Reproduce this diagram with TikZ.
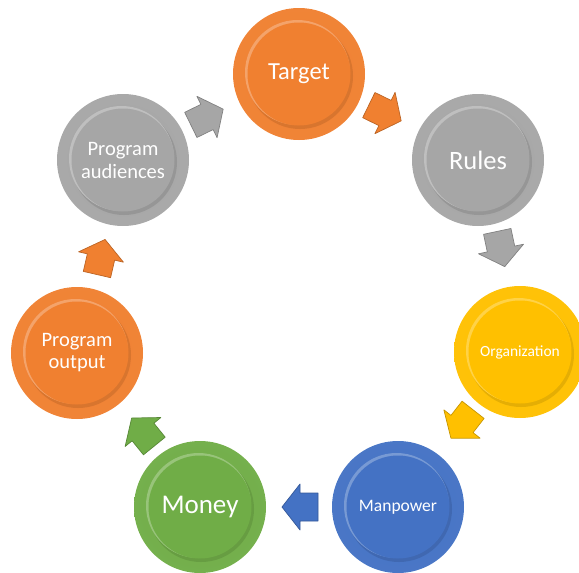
\documentclass[tikz,border=0pt]{standalone}
\usepackage{fontspec}
\setmainfont{Carlito}
\colorlet{basecol}{black}
\definecolor{cOrange}{RGB}{240,128,48}
\definecolor{cGray}{RGB}{166,166,166}
\definecolor{cYellow}{RGB}{255,192,0}
\definecolor{cBlue}{RGB}{68,114,196}
\definecolor{cGreen}{RGB}{112,173,71}
\pgfdeclareradialshading[basecol]{discshade}{\pgfpoint{0bp}{0bp}}{%
  color(0bp)=(basecol); color(38bp)=(basecol!95!white); color(43bp)=(basecol!85!white);
  color(47bp)=(basecol!88!black); color(50bp)=(basecol!60!black)}
\tikzset{
  disc color/.code={\colorlet{basecol}{#1}},
  ball/.style={circle, minimum size=132pt, inner sep=0pt, disc color=#1,
    shading=discshade, shade, text=white, align=center,
    path picture={
      \fill[basecol!75!black, opacity=0.4] ([xshift=1pt,yshift=-2pt]path picture bounding box.center) circle (53pt);
      \fill[basecol!72!white] ([xshift=-1.5pt,yshift=1.5pt]path picture bounding box.center) circle (52.5pt);
      \fill[basecol] (path picture bounding box.center) circle (51.5pt);
    }},
  barrowstyle/.style={fill=#1, draw=#1!78!black, line width=0.7pt, line join=round},
}
\newcommand\blockarr[3]{%
  \filldraw[barrowstyle=#3, shift={(#1)}, rotate=#2]
    (18pt,0pt) -- (0pt,23pt) -- (0pt,14pt) -- (-18pt,14pt) -- (-18pt,-14pt)
    -- (0pt,-14pt) -- (0pt,-23pt) -- cycle;}
\begin{document}
\begin{tikzpicture}[x=1pt,y=-1pt]
\useasboundingbox (0,0) rectangle (579,573);
\begin{scope}
\clip (0,0) rectangle (579,573);
% circles
\node[ball=cOrange, font=\fontsize{24.5}{28}\selectfont] (target) at (299,74) {Target};
\node[ball=cGray, font=\fontsize{26.5}{30}\selectfont] (rules) at (478,160) {Rules};
\node[ball=cYellow, font=\fontsize{15.5}{18}\selectfont] (org) at (520,352) {Organization};
\node[ball=cBlue, font=\fontsize{17.5}{20}\selectfont] (manpower) at (398,507) {Manpower};
\node[ball=cGreen, font=\fontsize{27}{30}\selectfont] (money) at (200,507) {Money};
\node[ball=cOrange, font=\fontsize{20.5}{22}\selectfont] (output) at (77,353) {Program\\output};
\node[ball=cGray, font=\fontsize{20.5}{23}\selectfont] (aud) at (123,160) {Program\\audiences};
% block arrows
\coordinate (a1) at (207,117);
\coordinate (a2) at (385,113);
\coordinate (a3) at (501,249);
\coordinate (a4) at (462,424);
\coordinate (a5) at (300,507);
\coordinate (a6) at (143,432);
\coordinate (a7) at (101,257);
\blockarr{a1}{26}{cGray}
\blockarr{a2}{-26}{cOrange}
\blockarr{a3}{-78}{cGray}
\blockarr{a4}{-128}{cYellow}
\blockarr{a5}{180}{cBlue}
\blockarr{a6}{129}{cGreen}
\blockarr{a7}{77}{cOrange}
\end{scope}
\end{tikzpicture}
\end{document}
